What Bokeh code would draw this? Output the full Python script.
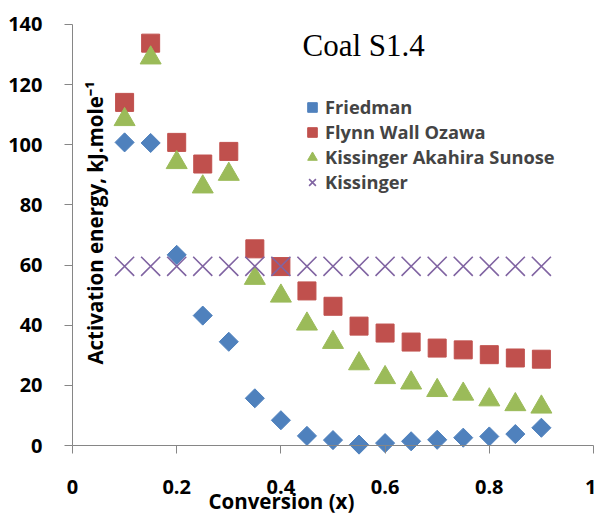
import math
from bokeh.plotting import figure
from bokeh.models import Range1d, Label, Legend, LegendItem, FixedTicker
from bokeh.embed import file_html
from bokeh.resources import INLINE

conversion = [0.1, 0.15, 0.2, 0.25, 0.3, 0.35, 0.4, 0.45, 0.5, 0.55, 0.6, 0.65, 0.7, 0.75, 0.8, 0.85, 0.9]
friedman = [100.8, 100.6, 63.4, 43.2, 34.5, 15.7, 8.4, 3.2, 1.8, 0.3, 0.8, 1.4, 1.9, 2.6, 3.0, 3.8, 5.9]
flynn_wall_ozawa = [114.1, 133.8, 100.8, 93.6, 97.8, 65.4, 59.5, 51.4, 46.3, 39.7, 37.4, 34.4, 32.4, 31.8, 30.2, 29.1, 28.7]
kas = [108.4, 128.9, 94.1, 86.0, 90.2, 55.6, 49.7, 40.4, 34.3, 27.2, 22.6, 20.8, 18.3, 17.1, 15.2, 13.6, 12.8]
kissinger = [59.6, 59.6, 59.6, 59.6, 59.6, 59.6, 59.6, 59.6, 59.6, 59.6, 59.6, 59.6, 59.6, 59.6, 59.6, 59.6, 59.6]

x_ticks = [0, 0.2, 0.4, 0.6, 0.8, 1]
x_tick_labels = ["0", "0.2", "0.4", "0.6", "0.8", "1"]
y_ticks = [0, 20, 40, 60, 80, 100, 120, 140]

series_names = ["Friedman", "Flynn Wall Ozawa", "Kissinger Akahira Sunose", "Kissinger"]
title_text = "Coal S1.4"
x_label = "Conversion (x)"
y_label = "Activation energy, kJ.mole\u207b\u00b9"

FONT = "Open Sans"
AXIS_GRAY = "#868686"

# The frame fills the whole canvas; both axes sit at fixed data locations (x=0, y=0)
# so that tick labels and axis titles outside the data area are not clipped.
p = figure(width=596, height=516, x_range=Range1d(-0.1382, 1.0058), y_range=Range1d(-23.61, 147.98),
           output_backend="svg", toolbar_location=None, min_border=0)
p.outline_line_color = None
p.grid.visible = False
p.background_fill_color = "white"
p.border_fill_color = "white"

for ax in (p.xaxis[0], p.yaxis[0]):
    ax.axis_line_color = AXIS_GRAY
    ax.major_tick_line_color = AXIS_GRAY
    ax.major_tick_in = 0
    ax.major_tick_out = 8
    ax.minor_tick_line_color = None
    ax.major_label_text_font = FONT
    ax.major_label_text_font_style = "bold"
    ax.major_label_text_font_size = "20px"
    ax.major_label_text_color = "black"

p.xaxis.ticker = FixedTicker(ticks=x_ticks)
p.xaxis.major_label_overrides = {t: s for t, s in zip(x_ticks, x_tick_labels)}
p.xaxis.major_label_standoff = 26
p.xaxis.fixed_location = 0
p.xaxis.bounds = (0, 1)
p.yaxis.ticker = FixedTicker(ticks=y_ticks)
p.yaxis.major_label_standoff = 22
p.yaxis.fixed_location = 0
p.yaxis.bounds = (0, 140)

r1 = p.scatter(conversion, friedman, marker="square", angle=math.pi / 4, size=13.5,
               fill_color="#4F81BD", line_color="#4F81BD")
r2 = p.scatter(conversion, flynn_wall_ozawa, marker="square", size=18,
               fill_color="#C0504D", line_color="#C0504D")
r3 = p.scatter(conversion, kas, marker="triangle", size=21,
               fill_color="#9BBB59", line_color="#9BBB59")
r4 = p.scatter(conversion, kissinger, marker="x", size=27,
               line_color="#8064A2", line_width=1.6)

legend = Legend(items=[LegendItem(label=n, renderers=[r]) for n, r in zip(series_names, [r1, r2, r3, r4])],
                location=(300, 322), padding=0, margin=0, spacing=0,
                glyph_width=24, glyph_height=24, label_height=20, label_standoff=1,
                label_text_font=FONT, label_text_font_style="bold", label_text_font_size="18.3px",
                border_line_color=None, background_fill_alpha=0)
p.add_layout(legend, "center")

p.add_layout(Label(x=0.4415, y=133, text=title_text, text_font="Liberation Serif",
                   text_font_size="31px", text_align="left", text_baseline="middle",
                   text_color="black"))
p.add_layout(Label(x=0.0441, y=74, text=y_label, text_font=FONT, text_font_style="bold",
                   text_font_size="20.5px", text_align="center", text_baseline="middle",
                   angle=math.pi / 2, text_color="black"))
p.add_layout(Label(x=0.401, y=-18.3, text=x_label, text_font=FONT,
                   text_font_style="bold", text_font_size="20.5px", text_align="center",
                   text_baseline="middle", text_color="black"))

open("out.html", "w").write(file_html(p, INLINE))
